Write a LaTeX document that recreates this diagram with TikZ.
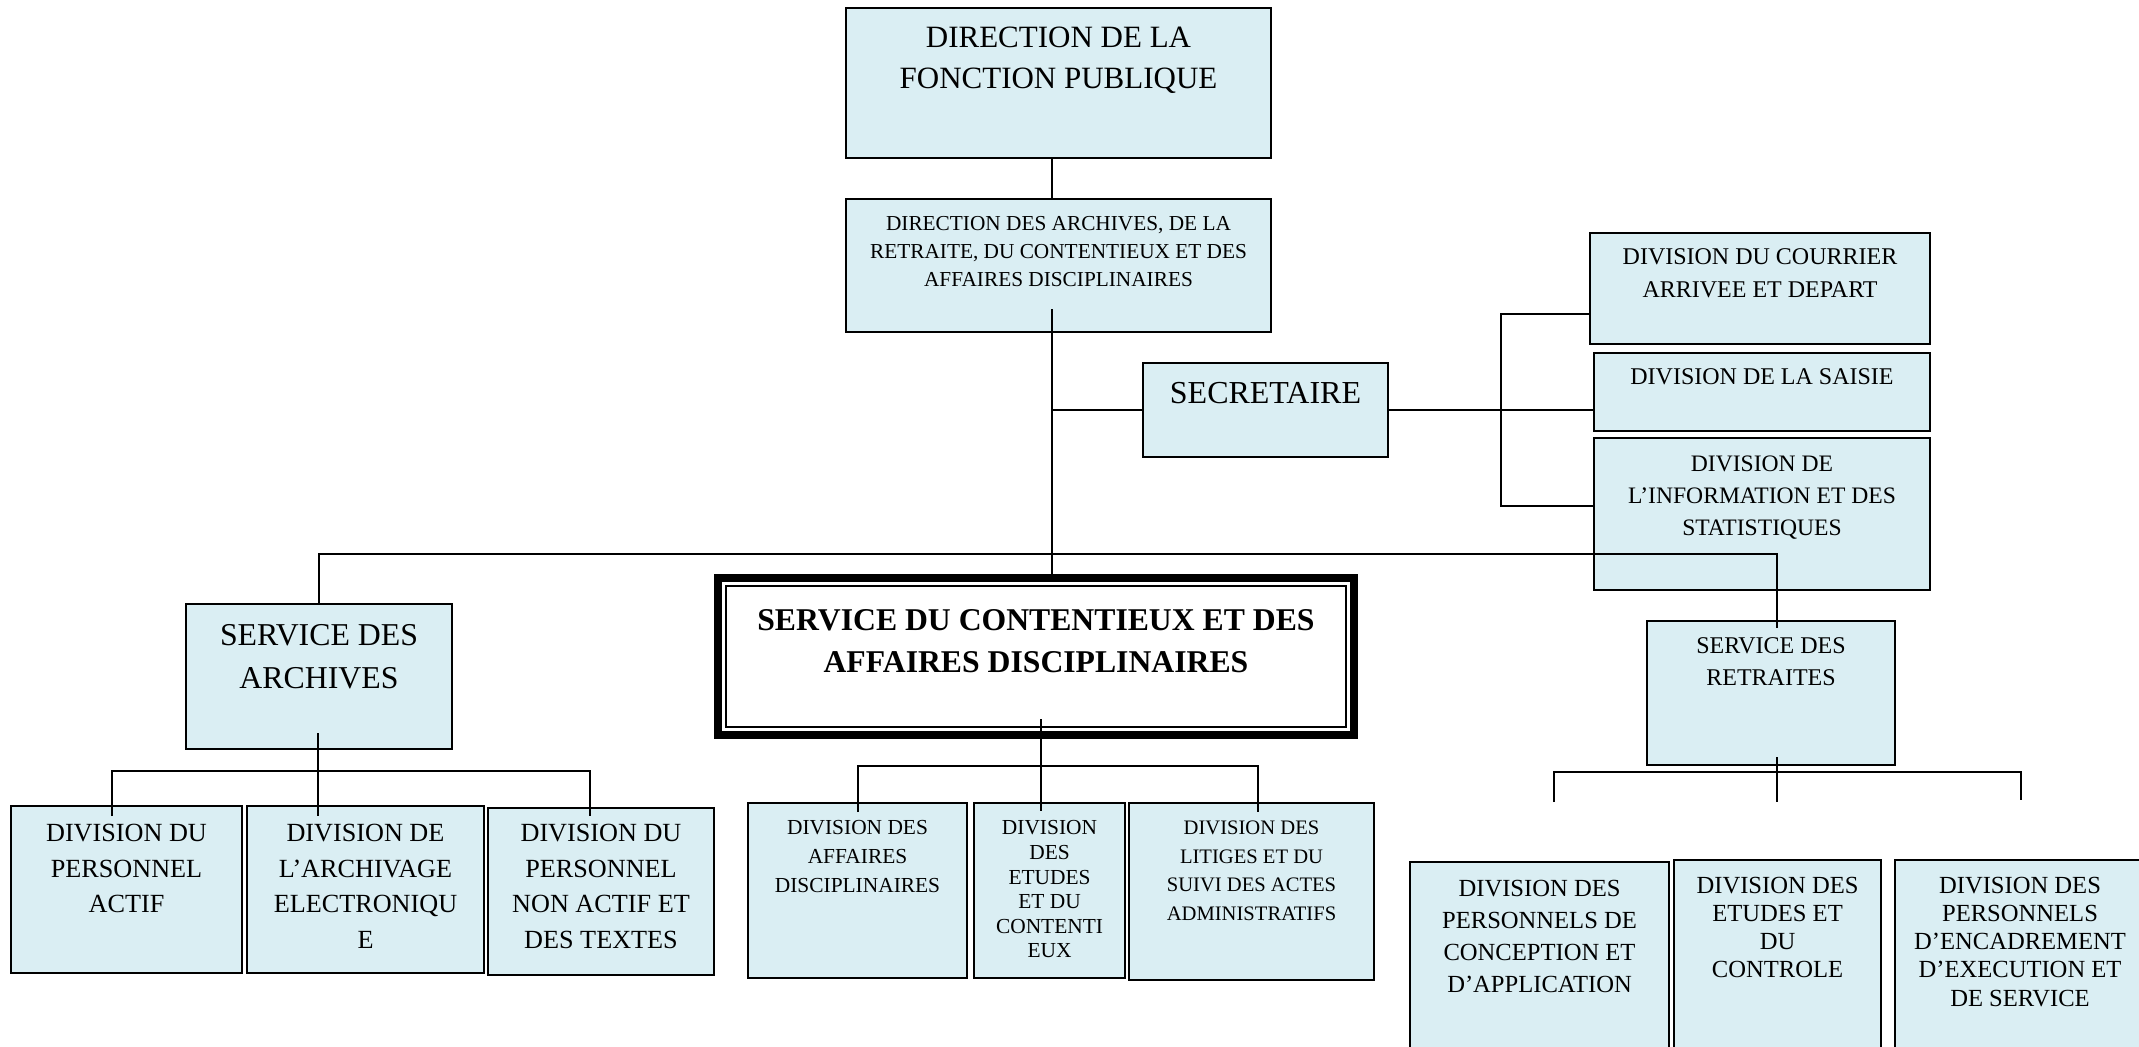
\documentclass[tikz,border=0pt]{standalone}
\usepackage{fontspec}
\setmainfont{Liberation Serif}
\usepackage{tikz}
\usetikzlibrary{positioning}
\definecolor{boxblue}{HTML}{DAEEF3}
\newcommand{\fsz}[2]{\fontsize{#1}{#2}\selectfont}
\newcommand{\pxScale}{0.5pt}

\begin{document}
\begin{tikzpicture}[x=\pxScale, y=-\pxScale]
  \tikzset{unit/.style={draw, fill=boxblue, line width=1pt, inner sep=0pt, outer sep=0pt},
    lbl/.style={align=center, inner sep=0pt, outer sep=0pt},
    link/.style={line width=1pt}}
  \useasboundingbox (0,0) rectangle (2139,1046);
  \clip (0,0) rectangle (2139,1046);

  \node[unit, minimum width=212.5pt, minimum height=75pt] (dfp) at (1058.5,83) {};
  \node[lbl, font=\fsz{15.5}{20.5}, below=9.25pt of dfp.north] (dfp-t) {DIRECTION DE LA\\FONCTION PUBLIQUE};
  \node[unit, minimum width=212.5pt, minimum height=66.5pt] (dar) at (1058.5,265.5) {};
  \node[lbl, font=\fsz{10.65}{14}, below=8.5pt of dar.north] (dar-t) {DIRECTION DES ARCHIVES, DE LA\\RETRAITE, DU CONTENTIEUX ET DES\\AFFAIRES DISCIPLINAIRES};
  \node[unit, minimum width=122.5pt, minimum height=47pt] (sec) at (1265.5,410) {};
  \node[lbl, font=\fsz{16}{20}, below=9.5pt of sec.north] (sec-t) {SECRETAIRE};

  \node[unit, minimum width=170pt, minimum height=55.5pt] (cour) at (1760,288.5) {};
  \node[lbl, font=\fsz{12}{16.5}, below=8pt of cour.north] (cour-t) {DIVISION DU COURRIER\\ARRIVEE ET DEPART};
  \node[unit, minimum width=168pt, minimum height=39pt] (sais) at (1762,392) {};
  \node[lbl, font=\fsz{12}{16}, below=8pt of sais.north] (sais-t) {DIVISION DE LA SAISIE};
  \node[unit, minimum width=168pt, minimum height=76pt] (info) at (1762,514) {};
  \node[lbl, font=\fsz{11.8}{16}, below=9pt of info.north] (info-t) {DIVISION DE\\L’INFORMATION ET DES\\STATISTIQUES};

  \node[unit, minimum width=133pt, minimum height=72.5pt] (sarch) at (319,676.5) {};
  \node[lbl, font=\fsz{15.9}{21.5}, below=10pt of sarch.north] (sarch-t) {SERVICE DES\\ARCHIVES};
  \node[unit, minimum width=115.5pt, minimum height=83.5pt] (dpa) at (126.5,889.5) {};
  \node[lbl, font=\fsz{13.1}{17.7}, below=9.3pt of dpa.north] (dpa-t) {DIVISION DU\\PERSONNEL\\ACTIF};
  \node[unit, minimum width=118.5pt, minimum height=83.5pt] (dae) at (365.5,889.5) {};
  \node[lbl, font=\fsz{13.1}{17.7}, below=9.3pt of dae.north] (dae-t) {DIVISION DE\\L’ARCHIVAGE\\ELECTRONIQU\\E};
  \node[unit, minimum width=113pt, minimum height=83.5pt] (dpna) at (601,891.5) {};
  \node[lbl, font=\fsz{13.1}{17.7}, below=8.3pt of dpna.north] (dpna-t) {DIVISION DU\\PERSONNEL\\NON ACTIF ET\\DES TEXTES};

  \node[draw, fill=white, line width=4pt, inner sep=0pt, outer sep=0pt, minimum width=318pt, minimum height=78.5pt] (scad) at (1036,656.5) {};
  \draw[line width=1pt] ([shift={(4pt,-4pt)}]scad.north west) rectangle ([shift={(-4pt,4pt)}]scad.south east);
  \node[lbl, font=\fsz{15.85}{21}\bfseries, below=15.5pt of scad.north] (scad-t) {SERVICE DU CONTENTIEUX ET DES\\AFFAIRES DISCIPLINAIRES};
  \node[unit, minimum width=109.5pt, minimum height=87.5pt] (dad) at (857.5,890.5) {};
  \node[lbl, font=\fsz{10.7}{14.3}, below=8.9pt of dad.north] (dad-t) {DIVISION DES\\AFFAIRES\\DISCIPLINAIRES};
  \node[unit, minimum width=75.5pt, minimum height=87.5pt] (dec) at (1049.5,890.5) {};
  \node[lbl, font=\fsz{10.7}{12.3}, below=8.9pt of dec.north] (dec-t) {DIVISION\\DES\\ETUDES\\ET DU\\CONTENTI\\EUX};
  \node[unit, minimum width=122.5pt, minimum height=88.5pt] (dls) at (1251.5,891.5) {};
  \node[lbl, font=\fsz{10.3}{14.3}, below=8.9pt of dls.north] (dls-t) {DIVISION DES\\LITIGES ET DU\\SUIVI DES ACTES\\ADMINISTRATIFS};

  \node[unit, minimum width=124pt, minimum height=72pt] (sret) at (1771,693) {};
  \node[lbl, font=\fsz{12}{16}, below=8.5pt of sret.north] (sret-t) {SERVICE DES\\RETRAITES};
  \node[unit, minimum width=129.5pt, minimum height=119pt] (dpc) at (1539.5,981) {};
  \node[lbl, font=\fsz{12.3}{16.1}, below=9pt of dpc.north] (dpc-t) {DIVISION DES\\PERSONNELS DE\\CONCEPTION ET\\D’APPLICATION};
  \node[unit, minimum width=103.5pt, minimum height=120pt] (dedc) at (1777.5,980) {};
  \node[lbl, font=\fsz{12.3}{14.1}, below=8.5pt of dedc.north] (dedc-t) {DIVISION DES\\ETUDES ET\\DU\\CONTROLE};
  \node[unit, minimum width=125pt, minimum height=120pt] (dpe) at (2020,980) {};
  \node[lbl, font=\fsz{12.3}{14.1}, below=8.5pt of dpe.north] (dpe-t) {DIVISION DES\\PERSONNELS\\D’ENCADREMENT\\D’EXECUTION ET\\DE SERVICE};

  \coordinate (trunk) at (1052,0);
  \coordinate (brk) at (1501,408);
  \coordinate (bus) at (1052,554);
  \coordinate (sa-l) at (112,771);
  \coordinate (sa-r) at (590,771);
  \coordinate (sc-l) at (858,766);
  \coordinate (sc-r) at (1258,766);
  \coordinate (sr-l) at (1554,772);
  \coordinate (sr-r) at (2021,772);

  \draw[link] (dfp.south -| trunk) -- (dar.north -| trunk);
  \draw[link] (dar.south -| trunk) ++(0,-23) -- (scad.north -| trunk);
  \draw[link] (sec.west -| trunk) -- (sec.west);
  \draw[link] (sec.east) -- (sec.east -| sais.west);
  \draw[link] (cour.west) ++(0,25.5) -| (brk) |- ([yshift=4pt]info.west);
  \draw[link] (sarch.north) |- (bus) -| ([xshift=3pt]sret.north) -- ++(0,7);
  \draw[link] (sarch.south) ++(-1,-16) -- ++(0,83);
  \draw[link] (sa-l |- dpa.north) ++(0,10) |- (sa-r) -- ++(0,45);
  \draw[link] (scad.south) ++(5,-16) -- ++(0,92);
  \draw[link] (sc-l |- dad.north) ++(0,9) |- (sc-r) -- ++(0,46);
  \draw[link] (sret.south) ++(6,-8) -- ++(0,45);
  \draw[link] (sr-l) ++(0,30) |- (sr-r) -- ++(0,28);
\end{tikzpicture}
\end{document}
